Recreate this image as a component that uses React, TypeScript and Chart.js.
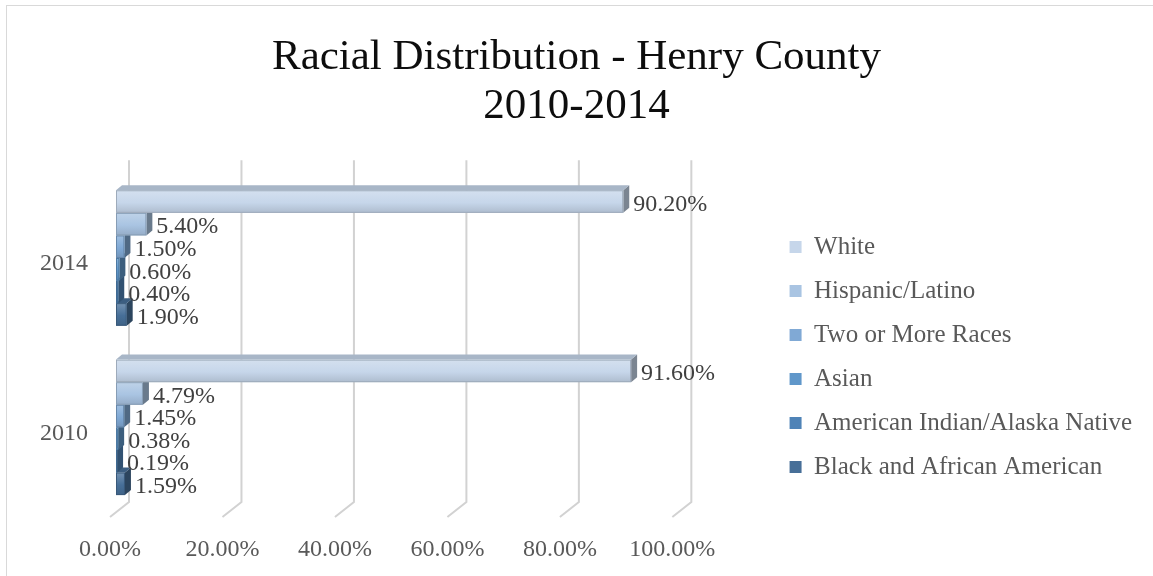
import React, { useEffect, useRef } from 'react';
import { Chart, registerables } from 'chart.js';

Chart.register(...registerables);

const categories = ['2014', '2010'];
const seriesNames = [
  'White',
  'Hispanic/Latino',
  'Two or More Races',
  'Asian',
  'American Indian/Alaska Native',
  'Black and African American',
];
const white = [90.2, 91.6];
const hispanic = [5.4, 4.79];
const twoOrMore = [1.5, 1.45];
const asian = [0.6, 0.38];
const amIndian = [0.4, 0.19];
const black = [1.9, 1.59];
const seriesValues = [white, hispanic, twoOrMore, asian, amIndian, black];
const seriesColors = ['#c6d6ea', '#a9c4e2', '#80a9d5', '#6097ca', '#4f83b7', '#476f98'];
const xTickValues = [0, 20, 40, 60, 80, 100];
const titleLines = ['Racial Distribution - Henry County', '2010-2014'];

const FONT = '"Liberation Serif", "Times New Roman", serif';
const DX = 6;
const DY = 5;
const LEGEND_SHIFT = 76;

function shade(hex: string, f: number): string {
  const n = parseInt(hex.slice(1), 16);
  let r = (n >> 16) & 255, g = (n >> 8) & 255, b = n & 255;
  const adj = (c: number) => {
    if (f >= 1) return Math.round(c + (255 - c) * (f - 1));
    return Math.round(c * f);
  };
  r = adj(r); g = adj(g); b = adj(b);
  return `rgb(${r},${g},${b})`;
}

const legendShift = {
  id: 'legendShift',
  afterLayout(chart: any) {
    const lg = chart.legend;
    if (lg) {
      lg.top += LEGEND_SHIFT;
      lg.bottom += LEGEND_SHIFT;
    }
  },
};

const bar3d = {
  id: 'bar3d',
  beforeDatasetsDraw(chart: any) {
    const { ctx, chartArea, scales } = chart;
    const xs = scales.x;
    // 3D-style gridlines (back wall + floor tail)
    ctx.save();
    ctx.strokeStyle = '#d2d2d2';
    ctx.lineWidth = 2;
    xTickValues.forEach((v) => {
      const fx = xs.getPixelForValue(v);
      ctx.beginPath();
      ctx.moveTo(fx + 13, chartArea.top - 13);
      ctx.lineTo(fx + 13, chartArea.bottom - 10);
      ctx.lineTo(fx - 6, chartArea.bottom + 5);
      ctx.stroke();
    });
    ctx.restore();

    const n = chart.data.datasets.length;
    ctx.save();
    for (let di = n - 1; di >= 0; di--) {
      if (!chart.isDatasetVisible(di)) continue;
      const meta = chart.getDatasetMeta(di);
      const col = seriesColors[di];
      meta.data.forEach((el: any) => {
        const { x, y, base, height } = el.getProps(['x', 'y', 'base', 'height'], true);
        const left = Math.min(base, x);
        const right = Math.max(base, x);
        const top = y - height / 2;
        const bottom = y + height / 2;
        // side face
        ctx.fillStyle = shade(col, 0.62);
        ctx.beginPath();
        ctx.moveTo(right, top);
        ctx.lineTo(right + DX, top - DY);
        ctx.lineTo(right + DX, bottom - DY);
        ctx.lineTo(right, bottom);
        ctx.closePath();
        ctx.fill();
        // top face
        ctx.fillStyle = shade(col, 0.85);
        ctx.beginPath();
        ctx.moveTo(left, top);
        ctx.lineTo(left + DX, top - DY);
        ctx.lineTo(right + DX, top - DY);
        ctx.lineTo(right, top);
        ctx.closePath();
        ctx.fill();
        // front face with soft gradient
        const g = ctx.createLinearGradient(0, top, 0, bottom);
        g.addColorStop(0, shade(col, 1.25));
        g.addColorStop(0.55, col);
        g.addColorStop(1, shade(col, 0.88));
        ctx.fillStyle = g;
        ctx.fillRect(left, top, right - left, bottom - top);
        ctx.strokeStyle = shade(col, 0.8);
        ctx.lineWidth = 1;
        ctx.strokeRect(left + 0.5, top + 0.5, Math.max(0, right - left - 1), bottom - top - 1);
      });
    }
    // data labels
    ctx.fillStyle = '#404040';
    ctx.font = `24px ${FONT}`;
    ctx.textAlign = 'left';
    ctx.textBaseline = 'middle';
    for (let di = 0; di < n; di++) {
      if (!chart.isDatasetVisible(di)) continue;
      const meta = chart.getDatasetMeta(di);
      meta.data.forEach((el: any, i: number) => {
        const { x, y } = el.getProps(['x', 'y'], true);
        const v = chart.data.datasets[di].data[i] as number;
        ctx.fillText(v.toFixed(2) + '%', x + DX + 4, y + 3);
      });
    }
    ctx.restore();
    return false;
  },
};

export default function App() {
  const ref = useRef<HTMLCanvasElement>(null);
  useEffect(() => {
    const canvas = ref.current;
    if (!canvas) return;
    const datasets = seriesNames.map((name, i) => ({
      label: name,
      data: seriesValues[i],
      backgroundColor: seriesColors[i],
      borderColor: seriesColors[i],
      borderWidth: 0,
      categoryPercentage: 0.8,
      barPercentage: 1,
    }));
    const chart = new Chart(canvas, {
      type: 'bar',
      data: { labels: categories, datasets },
      plugins: [bar3d, legendShift],
      options: {
        indexAxis: 'y',
        responsive: false,
        animation: false,
        layout: { padding: { left: 11, right: 11, top: 0, bottom: 14 } },
        plugins: {
          tooltip: { enabled: false },
          title: {
            display: true,
            text: titleLines,
            color: '#0d0d0d',
            font: { family: FONT, size: 43, weight: 'normal', lineHeight: 1.12 },
            padding: { top: 34, bottom: 43 },
          },
          legend: {
            position: 'right',
            maxWidth: 420,
            labels: {
              boxWidth: 12,
              boxHeight: 12,
              padding: 19,
              color: '#595959',
              font: { family: FONT, size: 25 },
            },
          },
        },
        scales: {
          x: {
            min: 0,
            max: 116.4,
            grid: { display: false, drawTicks: false },
            border: { display: false },
            afterBuildTicks: (s: any) => {
              s.ticks = xTickValues.map((v) => ({ value: v }));
            },
            afterFit: (s: any) => {
              s.height = 50;
            },
            ticks: {
              padding: 23,
              labelOffset: -6,
              color: '#595959',
              font: { family: FONT, size: 24 },
              callback: (v: any) => Number(v).toFixed(2) + '%',
            },
          },
          y: {
            grid: { display: false, drawTicks: false },
            border: { display: false },
            afterFit: (s: any) => {
              s.width = 105;
            },
            ticks: {
              padding: 28,
              labelOffset: 6,
              color: '#595959',
              font: { family: FONT, size: 24 },
            },
          },
        },
      },
    });
    return () => chart.destroy();
  }, []);

  return (
    <div
      style={{
        position: 'fixed',
        left: 0,
        top: 0,
        width: 1153,
        height: 576,
        overflow: 'hidden',
        background: '#ffffff',
      }}
    >
      <div
        style={{
          position: 'absolute',
          left: 6,
          top: 5,
          width: 1200,
          height: 620,
          border: '1px solid #d9d9d9',
          boxSizing: 'border-box',
        }}
      />
      <canvas ref={ref} width={1153} height={576} style={{ position: 'absolute', left: 0, top: 0 }} />
    </div>
  );
}
